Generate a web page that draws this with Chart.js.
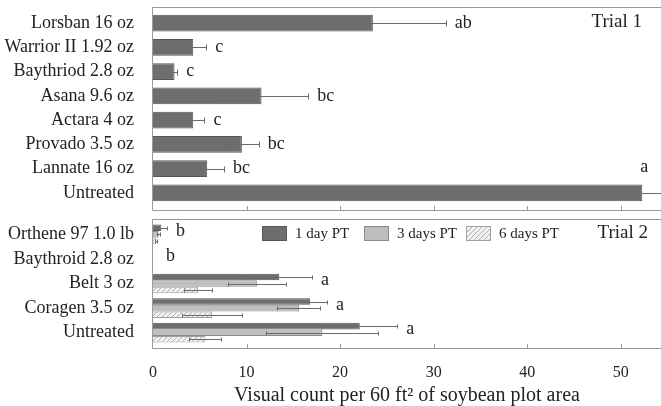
<!DOCTYPE html>
<html>
<head>
<meta charset="utf-8">
<script src="https://cdn.jsdelivr.net/npm/chart.js@4.4.1/dist/chart.umd.min.js"></script>
<style>
  html, body { margin: 0; padding: 0; background: #fff; }
  #wrap { position: relative; width: 661px; height: 406px; overflow: hidden; }
  canvas { position: absolute; left: 0; }
  #trial1 { top: 0; }
  #trial2 { top: 214px; }
</style>
</head>
<body>
<div id="wrap">
  <canvas id="trial1" width="661" height="215"></canvas>
  <canvas id="trial2" width="661" height="192"></canvas>
</div>
<script>
// Trial 1
const trial1Labels = ['Lorsban 16 oz', 'Warrior II 1.92 oz', 'Baythriod 2.8 oz', 'Asana 9.6 oz',
    'Actara 4 oz', 'Provado 3.5 oz', 'Lannate 16 oz', 'Untreated'];
const trial1Means = [23.5, 4.3, 2.3, 11.6, 4.3, 9.5, 5.8, 52.3];
const trial1Errors = [7.8, 1.4, 0.3, 5.0, 1.2, 1.8, 1.8, 17.3];
const trial1Letters = ['ab', 'c', 'c', 'bc', 'c', 'bc', 'bc', 'a'];

// Trial 2
const trial2Labels = ['Orthene 97 1.0 lb', 'Baythroid 2.8 oz', 'Belt 3 oz', 'Coragen 3.5 oz', 'Untreated'];
const oneDayMeans = [0.9, 0, 13.5, 16.8, 22.1];
const oneDayErrors = [0.6, 0, 3.5, 1.8, 4.0];
const threeDayMeans = [0.6, 0, 11.1, 15.6, 18.1];
const threeDayErrors = [0.2, 0, 3.1, 2.3, 6.0];
const sixDayMeans = [0.3, 0, 4.8, 6.3, 5.6];
const sixDayErrors = [0.1, 0, 1.5, 3.2, 1.7];
const trial2Letters = ['b', 'b', 'a', 'a', 'a'];

const xTicks = [0, 10, 20, 30, 40, 50];
const xMax = 54.3;

const FONT = '"Liberation Serif", "Times New Roman", serif';
const TEXT = '#222';
const FRAME = '#9a9a9a';

// hatch pattern for 6 days PT
function makeHatch() {
    const c = document.createElement('canvas');
    c.width = 5; c.height = 5;
    const g = c.getContext('2d');
    g.fillStyle = '#f2f2f2';
    g.fillRect(0, 0, 5, 5);
    g.strokeStyle = '#b0b0b0';
    g.lineWidth = 1;
    g.beginPath();
    g.moveTo(0, 5); g.lineTo(5, 0);
    g.moveTo(-1, 1); g.lineTo(1, -1);
    g.moveTo(4, 6); g.lineTo(6, 4);
    g.stroke();
    return g.createPattern(c, 'repeat');
}

// frame, inner ticks, error bars, letters
const panelPlugin = {
    id: 'panel',
    afterDatasetsDraw(chart, args, opts) {
        const ctx = chart.ctx;
        const area = chart.chartArea;
        const xs = chart.scales.x;
        const top = area.top - opts.frameTop;
        const bottom = area.bottom + opts.frameBottom;
        ctx.save();

        // error bars
        ctx.strokeStyle = '#6a6a6a';
        ctx.lineWidth = 1;
        chart.data.datasets.forEach((ds, di) => {
            const meta = chart.getDatasetMeta(di);
            meta.data.forEach((el, i) => {
                const v = ds.data[i], e = ds.errors[i];
                if (!e) return;
                const x1 = Math.round(xs.getPixelForValue(v - e)) + 0.5;
                const x2 = Math.round(xs.getPixelForValue(v + e)) + 0.5;
                const y = Math.round(el.y) + 0.5;
                const h = opts.cap;
                ctx.beginPath();
                ctx.moveTo(x1, y); ctx.lineTo(x2, y);
                ctx.moveTo(x1, y - h); ctx.lineTo(x1, y + h);
                ctx.moveTo(x2, y - h); ctx.lineTo(x2, y + h);
                ctx.stroke();
            });
        });

        // frame
        ctx.strokeStyle = FRAME;
        ctx.beginPath();
        ctx.moveTo(area.right + 5, top + 0.5);
        ctx.lineTo(area.left - 0.5, top + 0.5);
        ctx.lineTo(area.left - 0.5, bottom + 0.5);
        ctx.lineTo(area.right + 5, bottom + 0.5);
        xTicks.forEach(t => {
            if (t === 0) return;
            const x = Math.round(xs.getPixelForValue(t)) + 0.5;
            ctx.moveTo(x, bottom);
            ctx.lineTo(x, bottom - 4);
        });
        ctx.stroke();

        // significance letters
        ctx.fillStyle = TEXT;
        ctx.font = '18px ' + FONT;
        ctx.textBaseline = 'middle';
        const metas = chart.data.datasets.map((ds, di) => chart.getDatasetMeta(di));
        opts.letters.forEach((letter, i) => {
            let end = 0, ySum = 0;
            chart.data.datasets.forEach((ds, di) => {
                end = Math.max(end, ds.data[i] + (ds.errors[i] || 0));
                ySum += metas[di].data[i].y;
            });
            const yc = ySum / metas.length - opts.letterLift;
            let x = Math.max(xs.getPixelForValue(end) + 9, area.left + 13);
            const w = ctx.measureText(letter).width;
            if (x + w > area.right) {
                const barEnd = xs.getPixelForValue(chart.data.datasets[0].data[i]);
                const el = metas[0].data[i];
                ctx.textAlign = 'center';
                ctx.fillText(letter, barEnd + 2, el.y - el.height / 2 - 17);
            } else {
                ctx.textAlign = 'left';
                ctx.fillText(letter, x, yc);
            }
        });

        // trial label
        ctx.font = '19px ' + FONT;
        ctx.textAlign = 'right';
        ctx.fillText(opts.title, opts.titleX, opts.titleY);

        // legend
        if (opts.legend) {
            ctx.font = '15px ' + FONT;
            ctx.textAlign = 'left';
            opts.legend.forEach((x, di) => {
                const ds = chart.data.datasets[di];
                ctx.fillStyle = ds.backgroundColor;
                ctx.fillRect(x, 12, 25, 15);
                ctx.strokeStyle = ds.borderColor;
                ctx.strokeRect(x + 0.5, 12.5, 24, 14);
                ctx.fillStyle = TEXT;
                ctx.fillText(ds.label, x + 33, 20);
            });
        }
        ctx.restore();
    }
};

function yAxis() {
    return {
        type: 'category',
        offset: true,
        grid: { display: false },
        border: { display: false },
        ticks: { color: TEXT, padding: 11, font: { family: FONT, size: 18 }, autoSkip: false },
        afterFit(axis) {
            axis.width = 153;
            axis.paddingTop = 0;
            axis.paddingBottom = 0;
        }
    };
}

function xAxis(show) {
    return {
        type: 'linear',
        min: 0,
        max: xMax,
        display: show,
        grid: { display: false },
        border: { display: false },
        afterBuildTicks(axis) { axis.ticks = xTicks.map(v => ({ value: v })); },
        afterFit(axis) {
            axis.paddingLeft = 0;
            axis.paddingRight = 0;
            if (show) axis.height = 61;
        },
        ticks: { color: TEXT, padding: 10, font: { family: FONT, size: 16 }, maxRotation: 0 },
        title: {
            display: show,
            text: 'Visual count per 60 ft² of soybean plot area',
            color: TEXT,
            font: { family: FONT, size: 20 },
            padding: { top: 1, bottom: -2 }
        }
    };
}

new Chart(document.getElementById('trial1'), {
    type: 'bar',
    data: {
        labels: trial1Labels,
        datasets: [{
            label: 'Trial 1',
            data: trial1Means,
            errors: trial1Errors,
            backgroundColor: '#6e6e6e',
            borderColor: '#575757',
            borderWidth: 1,
            barPercentage: 0.7,
            categoryPercentage: 1
        }]
    },
    options: {
        indexAxis: 'y',
        responsive: false,
        animation: false,
        layout: { padding: { top: 11, bottom: 10, left: 0, right: 0 } },
        scales: { x: xAxis(false), y: yAxis() },
        plugins: {
            legend: { display: false },
            tooltip: { enabled: false },
            panel: {
                frameTop: 4, frameBottom: 5, cap: 3, letterLift: 0,
                letters: trial1Letters,
                title: 'Trial 1', titleX: 642, titleY: 22
            }
        }
    },
    plugins: [panelPlugin]
});

new Chart(document.getElementById('trial2'), {
    type: 'bar',
    data: {
        labels: trial2Labels,
        datasets: [{
            label: '1 day PT',
            data: oneDayMeans,
            errors: oneDayErrors,
            backgroundColor: '#6e6e6e',
            borderColor: '#575757',
            borderWidth: 1
        }, {
            label: '3 days PT',
            data: threeDayMeans,
            errors: threeDayErrors,
            backgroundColor: '#bebebe',
            borderColor: '#8c8c8c',
            borderWidth: 1
        }, {
            label: '6 days PT',
            data: sixDayMeans,
            errors: sixDayErrors,
            backgroundColor: makeHatch(),
            borderColor: '#a0a0a0',
            borderWidth: 1
        }].map(ds => Object.assign(ds, { barPercentage: 1, categoryPercentage: 0.8 }))
    },
    options: {
        indexAxis: 'y',
        responsive: false,
        animation: false,
        layout: { padding: { top: 8, bottom: 0, left: 0, right: 0 } },
        scales: { x: xAxis(true), y: yAxis() },
        plugins: {
            legend: { display: false },
            tooltip: { enabled: false },
            panel: {
                frameTop: 3, frameBottom: 3, cap: 2, letterLift: 3,
                letters: trial2Letters,
                title: 'Trial 2', titleX: 648, titleY: 19,
                legend: [262, 364, 466]
            }
        }
    },
    plugins: [panelPlugin]
});
</script>
</body>
</html>
